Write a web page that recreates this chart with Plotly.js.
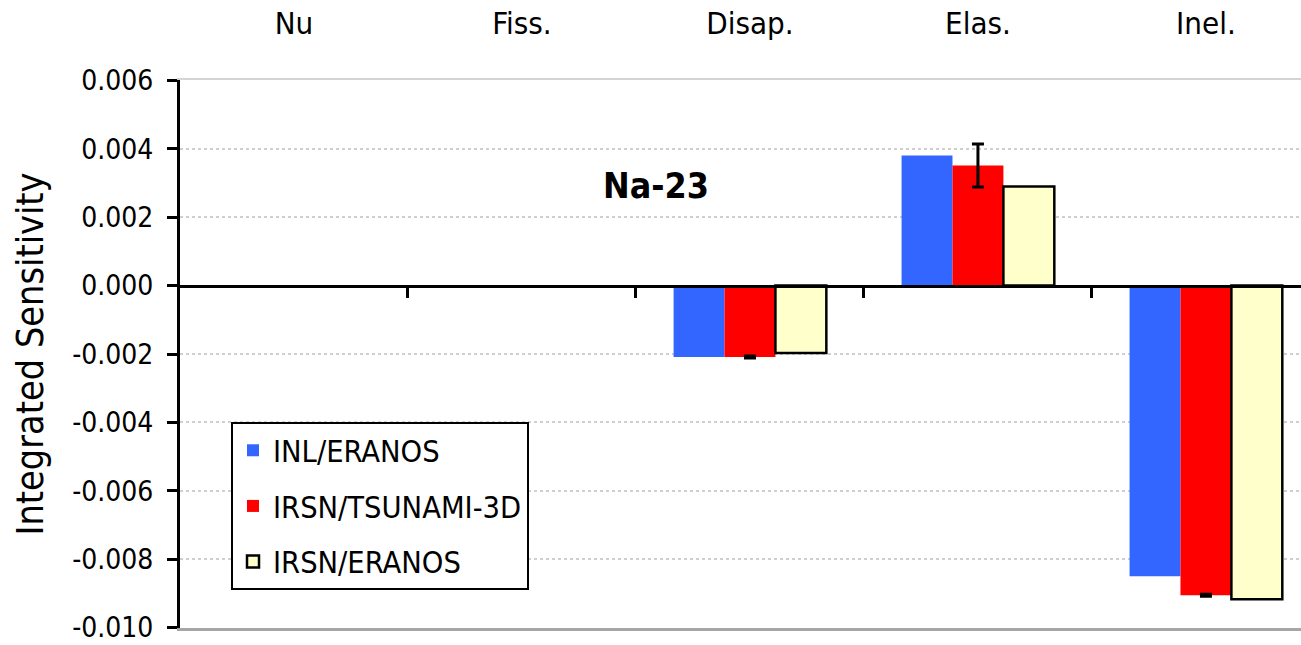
<!DOCTYPE html>
<html><head><meta charset="utf-8">
<script src="https://cdn.plot.ly/plotly-3.0.1.min.js"></script>
<style>body{margin:0;background:#fff}#c{width:1301px;height:645px}</style>
</head><body><div id="c"></div>
<script>
const categories = ["Nu", "Fiss.", "Disap.", "Elas.", "Inel."];
const inlEranos = [null, null, -0.00209, 0.00380, -0.00850];
const irsnTsunami = [null, null, -0.00209, 0.00351, -0.00905];
const irsnTsunamiErr = [0, 0, 0.00003, 0.00063, 0.00003];
const irsnEranos = [null, null, -0.00197, 0.00290, -0.00917];
const yTicks = [0.006, 0.004, 0.002, 0.000, -0.002, -0.004, -0.006, -0.008, -0.010];
const yTickText = ["0.006", "0.004", "0.002", "0.000", "-0.002", "-0.004", "-0.006", "-0.008", "-0.010"];
const boundaryTicks = [0.5, 1.5, 2.5, 3.5, 4.5];

const F = "DejaVu Sans Condensed, Liberation Sans, sans-serif";
const idx = categories.map((c, i) => i);

const traces = [
  {type: 'bar', name: 'INL/ERANOS', x: idx, y: inlEranos, legendgroup: 'a',
   marker: {color: '#3366FF', line: {width: 0}}},
  {type: 'bar', name: 'IRSN/TSUNAMI-3D', x: idx, y: irsnTsunami, legendgroup: 'b',
   marker: {color: '#FF0000', line: {width: 0}},
   error_y: {type: 'data', array: irsnTsunamiErr, visible: true, color: '#000', thickness: 3, width: 6}},
  {type: 'bar', name: 'IRSN/ERANOS', x: idx, y: irsnEranos, legendgroup: 'c',
   marker: {color: '#FFFFCC', line: {width: 2.5, color: '#000'}}},
  {type: 'scatter', x: [0], y: [0], xaxis: 'x2', yaxis: 'y', showlegend: false, hoverinfo: 'skip',
   mode: 'markers', marker: {opacity: 0}},
  {type: 'scatter', x: [0], y: [0], xaxis: 'x3', yaxis: 'y', showlegend: false, hoverinfo: 'skip',
   mode: 'markers', marker: {opacity: 0}}
];

const layout = {
  width: 1301, height: 645,
  margin: {l: 180, r: 0, t: 80, b: 17},
  paper_bgcolor: '#fff', plot_bgcolor: '#fff',
  font: {family: F, color: '#000', size: 28},
  barmode: 'group', bargap: 0.33, bargroupgap: 0,
  showlegend: true,
  xaxis: {
    type: 'linear', range: [-0.5, 4.417], side: 'top',
    tickmode: 'array', tickvals: idx, ticktext: categories,
    ticks: '', showgrid: false, zeroline: false,
    showline: true, linecolor: '#d4d4d4', linewidth: 2,
    tickfont: {family: F, size: 31}, ticklabelstandoff: 32
  },
  xaxis2: {
    type: 'linear', range: [-0.5, 4.417], overlaying: 'x', anchor: 'free', position: 0.625,
    tickmode: 'array', tickvals: boundaryTicks, showticklabels: false,
    ticks: 'outside', ticklen: 10, tickwidth: 3, tickcolor: '#000',
    showline: true, linecolor: '#000', linewidth: 3, showgrid: false, zeroline: false
  },
  xaxis3: {
    type: 'linear', range: [-0.5, 4.417], overlaying: 'x', anchor: 'y', side: 'bottom',
    showticklabels: false, ticks: '', showgrid: false, zeroline: false,
    showline: true, linecolor: '#a6a6a6', linewidth: 3
  },
  yaxis: {
    range: [-0.01001, 0.00601], tickmode: 'array', tickvals: yTicks, ticktext: yTickText,
    ticks: 'outside', ticklen: 10, tickwidth: 3, tickcolor: '#000',
    showline: true, linecolor: '#000', linewidth: 3,
    showgrid: true, gridcolor: '#cfcfcf', gridwidth: 2, griddash: 'dot',
    zeroline: false, tickfont: {family: F, size: 28}, ticklabelstandoff: 8,
    ticklabeloverflow: 'allow',
    title: {text: 'Integrated Sensitivity', font: {family: F, size: 37.5}, standoff: 18}
  },
  legend: {
    x: 0.0455, y: 0.376, xanchor: 'left', yanchor: 'top',
    bgcolor: '#fff', bordercolor: '#000', borderwidth: 2,
    font: {family: F, size: 30.5}, tracegroupgap: 13, traceorder: 'grouped'
  },
  annotations: [
    {text: '<b>Na-23</b>', x: 1.59, y: 0.00294, xref: 'x', yref: 'y', showarrow: false,
     font: {family: F, size: 35.5}}
  ]
};

Plotly.newPlot('c', traces, layout, {staticPlot: true});
</script>
</body></html>
